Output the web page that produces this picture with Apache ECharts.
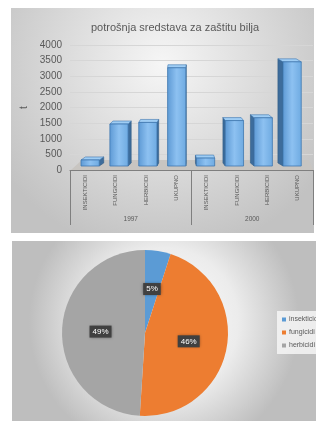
<!DOCTYPE html>
<html><head><meta charset="utf-8">
<script src="https://cdn.jsdelivr.net/npm/echarts@6/dist/echarts.min.js"></script>
<style>html,body{margin:0;padding:0;background:#fff}#c{width:316px;height:421px}</style>
</head><body><div id="c"></div>
<script>
const chartTitle = 'potrošnja sredstava za zaštitu bilja';
const categories = ['INSEKTICIDI', 'FUNGICIDI', 'HERBICIDI', 'UKUPNO'];
const years = ['1997', '2000'];
const values1997 = [290, 1440, 1490, 3240];
const values2000 = [350, 1550, 1640, 3430];
const yMin = 0, yMax = 4000, yStep = 500;
const axisName = 't';
const pieNames = ['insekticidi', 'fungicidi', 'herbicidi'];
const pieValues = [5, 46, 49];
const pieColors = ['#5B9BD5', '#ED7D31', '#A5A5A5'];

const xLabels = [].concat(categories, categories);
const barData = [];
[values1997, values2000].forEach((vals, yi) => {
  vals.forEach((v, ci) => barData.push([yi * categories.length + ci, v]));
});

function renderBar(params, api) {
  const xi = api.value(0), v = api.value(1);
  const base = api.coord([xi, 0]);
  const top = api.coord([xi, v]);
  const cs = params.coordSys;
  const cx0 = cs.x + cs.width * 0.47;
  const rel = cx0 - base[0];
  const cx = base[0] + rel * 0.05;
  const dx = rel * 0.045, dy = -3;
  const bw = api.size([1, 0])[0] * 0.6;
  const x0 = cx - bw / 2, x1 = cx + bw / 2;
  const yb = base[1] - 4, yf = top[1] - 1;
  const front = {
    type: 'rect', shape: { x: x0, y: yf, width: bw, height: yb - yf },
    style: {
      fill: new echarts.graphic.LinearGradient(0, 0, 1, 0, [
        { offset: 0, color: '#5d99d4' }, { offset: 0.5, color: '#8dc1f1' }, { offset: 1, color: '#6eaae1' }]),
      stroke: '#3f77b0', lineWidth: 0.8
    }
  };
  const topFace = {
    type: 'polygon',
    shape: { points: [[x0, yf], [x1, yf], [x1 + dx, yf + dy], [x0 + dx, yf + dy]] },
    style: { fill: '#9fcdf4', stroke: '#3f77b0', lineWidth: 0.6 }
  };
  const sx = dx >= 0 ? x1 : x0;
  const side = {
    type: 'polygon',
    shape: { points: [[sx, yf], [sx + dx, yf + dy], [sx + dx, yb + dy], [sx, yb]] },
    style: { fill: '#3d6c9b', stroke: '#2f5a85', lineWidth: 0.6 }
  };
  return { type: 'group', children: [side, topFace, front] };
}

const chart = echarts.init(document.getElementById('c'), null, { renderer: 'canvas' });
chart.setOption({
  animation: false,
  textStyle: { fontFamily: 'Liberation Sans, Arial, sans-serif' },
  graphic: [
    { type: 'rect', z: -10, shape: { x: 11, y: 8, width: 303, height: 225 },
      style: { fill: { type: 'radial', x: 0.5, y: 0.25, r: 0.85, colorStops: [
        { offset: 0, color: '#f6f6f6' }, { offset: 1, color: '#c2c2c2' }] } } },
    { type: 'rect', z: -10, shape: { x: 12, y: 241, width: 304, height: 180 },
      style: { fill: { type: 'radial', x: 0.5, y: 0.45, r: 0.75, colorStops: [
        { offset: 0, color: '#ffffff' }, { offset: 0.55, color: '#ececec' }, { offset: 1, color: '#bebebe' }] } } },
    { type: 'polygon', z: 1, shape: { points: [[71, 170], [313, 170], [309, 160], [82, 160]] },
      style: { fill: '#c8c5c1' } }
  ],
  title: {
    text: chartTitle, left: 86, top: 17,
    textStyle: { fontSize: 11, fontWeight: 'normal', color: '#595959' }
  },
  grid: { left: 70, right: 3, top: 45, bottom: 251, containLabel: false },
  xAxis: [
    { type: 'category', data: xLabels, position: 'bottom',
      axisLine: { lineStyle: { color: '#7f7f7f' } }, axisTick: { show: false },
      axisLabel: { rotate: 90, interval: 0, fontSize: 6, color: '#595959', margin: 5 } },
    { type: 'category', data: years, position: 'bottom',
      axisLine: { show: false },
      axisTick: { show: true, interval: 0, length: 55, lineStyle: { color: '#7f7f7f' } },
      axisLabel: { fontSize: 6.5, color: '#595959', margin: 46 } }
  ],
  yAxis: {
    type: 'value', min: yMin, max: yMax, interval: yStep,
    name: axisName, nameLocation: 'middle', nameGap: 36, nameRotate: 90,
    nameTextStyle: { fontSize: 10, color: '#595959' },
    axisLine: { show: false }, axisTick: { show: false },
    axisLabel: { fontSize: 10, color: '#595959', margin: 8, formatter: (v) => String(v) },
    splitLine: { lineStyle: { color: '#d6d6d6' } }
  },
  legend: {
    data: pieNames, orient: 'vertical', left: 277, top: 311,
    icon: 'rect', itemWidth: 4, itemHeight: 4, itemGap: 6,
    backgroundColor: 'rgba(246,246,246,0.85)', padding: [5, 4, 5, 5],
    textStyle: { fontSize: 7, color: '#595959', padding: [0, 0, 0, -2] }
  },
  series: [
    { type: 'custom', xAxisIndex: 0, yAxisIndex: 0, data: barData, renderItem: renderBar,
      encode: { x: 0, y: 1 }, z: 3 },
    { type: 'pie', center: [145, 333], radius: 83, startAngle: 90, clockwise: true,
      data: pieNames.map((n, i) => ({ name: n, value: pieValues[i], itemStyle: { color: pieColors[i] } })),
      label: { show: true, position: 'inside', formatter: '{c}%', color: '#ffffff', fontSize: 8,
        backgroundColor: '#404040', padding: [2, 3], shadowColor: 'rgba(0,0,0,0.4)', shadowBlur: 3 },
      labelLine: { show: false }, emphasis: { disabled: true } }
  ]
});
</script></body></html>
